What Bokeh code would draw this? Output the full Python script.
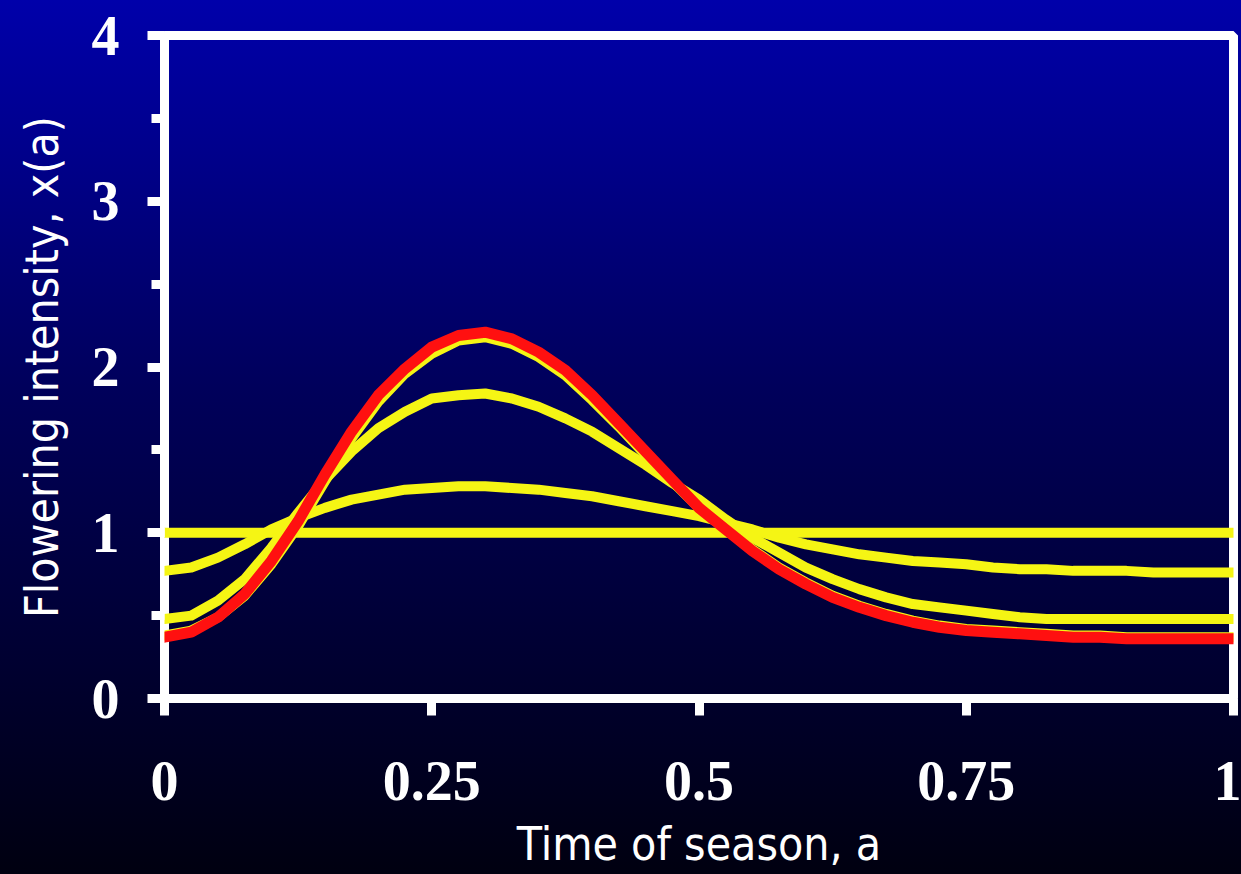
from bokeh.plotting import figure
from bokeh.models import Range1d, FixedTicker, SingleIntervalTicker
from bokeh.embed import file_html
from bokeh.resources import INLINE

# ---- data ----
season = [0, 0.025, 0.05, 0.075, 0.1, 0.125, 0.15, 0.175, 0.2, 0.225, 0.25, 0.275, 0.3,
          0.325, 0.35, 0.375, 0.4, 0.425, 0.45, 0.475, 0.5, 0.525, 0.55, 0.575, 0.6,
          0.625, 0.65, 0.675, 0.7, 0.725, 0.75, 0.775, 0.8, 0.825, 0.85, 0.875, 0.9,
          0.925, 0.95, 0.975, 1.0]
flat = [1.0] * len(season)
yellow_low = [0.77, 0.79, 0.85, 0.93, 1.02, 1.09, 1.15, 1.20, 1.23, 1.26, 1.27, 1.28, 1.28,
              1.27, 1.26, 1.24, 1.22, 1.19, 1.16, 1.13, 1.10, 1.06, 1.02, 0.97, 0.93,
              0.90, 0.87, 0.85, 0.83, 0.82, 0.81, 0.79, 0.78, 0.78, 0.77, 0.77, 0.77,
              0.76, 0.76, 0.76, 0.76]
yellow_mid = [0.48, 0.50, 0.59, 0.72, 0.91, 1.12, 1.32, 1.49, 1.63, 1.73, 1.81, 1.83, 1.84,
              1.81, 1.76, 1.69, 1.61, 1.51, 1.41, 1.30, 1.20, 1.08, 0.97, 0.88, 0.79,
              0.72, 0.66, 0.61, 0.57, 0.55, 0.53, 0.51, 0.49, 0.48, 0.48, 0.48, 0.48,
              0.48, 0.48, 0.48, 0.48]
yellow_high = [0.38, 0.41, 0.49, 0.62, 0.81, 1.04, 1.31, 1.57, 1.79, 1.96, 2.08, 2.16, 2.18,
               2.14, 2.06, 1.95, 1.80, 1.64, 1.47, 1.31, 1.15, 1.02, 0.90, 0.79, 0.70,
               0.62, 0.56, 0.51, 0.47, 0.44, 0.42, 0.41, 0.40, 0.39, 0.38, 0.38, 0.37,
               0.37, 0.37, 0.37, 0.37]
red_opt = [0.37, 0.40, 0.49, 0.63, 0.83, 1.07, 1.35, 1.61, 1.83, 1.99, 2.12, 2.19, 2.21,
           2.17, 2.09, 1.98, 1.83, 1.66, 1.49, 1.32, 1.15, 1.02, 0.89, 0.78, 0.69,
           0.61, 0.55, 0.50, 0.46, 0.43, 0.41, 0.40, 0.39, 0.38, 0.37, 0.37, 0.36,
           0.36, 0.36, 0.36, 0.36]
x_ticks = [0, 0.25, 0.5, 0.75, 1]
x_tick_labels = ["0", "0.25", "0.5", "0.75", "1"]
x_title = "Time of season, a"
y_title = "Flowering intensity, x(a)"

YELLOW = "#f5f514"
RED = "#ff1010"
TICK_FONT = "Liberation Serif"
LABEL_FONT = "DejaVu Sans Condensed"

p = figure(width=1241, height=874, output_backend="svg", toolbar_location=None,
           x_range=Range1d(0, 1), y_range=Range1d(0, 4),
           min_border_left=164, min_border_right=8, min_border_top=35, min_border_bottom=176)

p.styles = {"background": "linear-gradient(180deg, #0000aa 0%, #00005a 45%, #000010 100%)"}
p.background_fill_alpha = 0
p.border_fill_alpha = 0
p.outline_line_color = "white"
p.outline_line_width = 9
p.outline_line_alpha = 1
p.grid.visible = False

for ys, col, w in [(flat, YELLOW, 10), (yellow_low, YELLOW, 10), (yellow_mid, YELLOW, 10),
                   (yellow_high, YELLOW, 10), (red_opt, RED, 11)]:
    p.line(season, ys, line_color=col, line_width=w, line_cap="round", line_join="round")

# axes
xa = p.xaxis[0]
xa.ticker = FixedTicker(ticks=x_ticks, minor_ticks=[])
xa.major_label_overrides = {t: l for t, l in zip(x_ticks, x_tick_labels)}
ya = p.yaxis[0]
ya.ticker = SingleIntervalTicker(interval=1, num_minor_ticks=2)

for ax in (xa, ya):
    ax.axis_line_color = None
    ax.major_tick_line_color = "white"
    ax.major_tick_line_width = 9
    ax.major_tick_in = 0
    ax.major_tick_out = 17
    ax.minor_tick_line_color = "white"
    ax.minor_tick_line_width = 9
    ax.minor_tick_in = 0
    ax.minor_tick_out = 13
    ax.major_label_text_font = TICK_FONT
    ax.major_label_text_font_style = "bold"
    ax.major_label_text_font_size = "56px"
    ax.major_label_text_color = "white"
    ax.axis_label_text_font = LABEL_FONT
    ax.axis_label_text_font_style = "normal"
    ax.axis_label_text_font_size = "46px"
    ax.axis_label_text_color = "white"

xa.major_label_standoff = 46
xa.axis_label = x_title
xa.axis_label_standoff = 14
ya.major_label_standoff = 28
ya.axis_label = y_title
ya.axis_label_standoff = 20

open("out.html", "w").write(file_html(p, INLINE))
